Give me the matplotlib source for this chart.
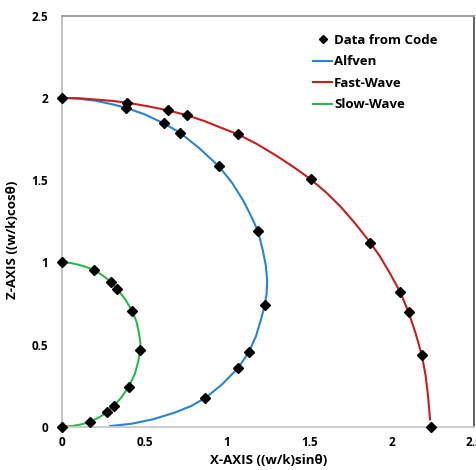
import matplotlib
matplotlib.use("Agg")
import matplotlib.pyplot as plt

plt.rcParams['font.family'] = ['Open Sans', 'DejaVu Sans']
plt.rcParams['font.weight'] = 'bold'

# markers ("Data from Code")
fast_pts_x = [0.0, 0.394, 0.642, 0.758, 1.067, 1.507, 1.869, 2.051, 2.101, 2.182, 2.235]
fast_pts_z = [2.0, 1.971, 1.924, 1.894, 1.778, 1.505, 1.120, 0.818, 0.697, 0.434, 0.0]
alfven_pts_x = [0.386, 0.616, 0.713, 0.950, 1.188, 1.228, 1.131, 1.065, 0.867]
alfven_pts_z = [1.940, 1.845, 1.789, 1.584, 1.188, 0.738, 0.452, 0.355, 0.174]
slow_pts_x = [0.0, 0.192, 0.295, 0.333, 0.424, 0.471, 0.402, 0.312, 0.269, 0.170, 0.0]
slow_pts_z = [1.0, 0.952, 0.881, 0.838, 0.705, 0.466, 0.241, 0.126, 0.087, 0.030, 0.0]

# curves
fast_x = [0.0, 0.1, 0.2, 0.3, 0.394, 0.52, 0.642, 0.7, 0.758, 0.86, 0.96, 1.067,
          1.18, 1.30, 1.41, 1.507, 1.60, 1.69, 1.78, 1.869, 1.93, 1.99, 2.051,
          2.101, 2.145, 2.182, 2.205, 2.22, 2.228, 2.231]
fast_z = [2.0, 1.998, 1.99, 1.982, 1.971, 1.949, 1.924, 1.909, 1.894, 1.86, 1.82, 1.778,
          1.72, 1.648, 1.575, 1.505, 1.426, 1.337, 1.233, 1.120, 1.032, 0.93, 0.818,
          0.697, 0.565, 0.434, 0.31, 0.18, 0.09, 0.045]
alfven_x = [0.0, 0.1, 0.2, 0.3, 0.386, 0.5, 0.616, 0.713, 0.83, 0.950, 1.03, 1.10,
            1.15, 1.188, 1.215, 1.235, 1.243, 1.24, 1.228, 1.205, 1.175, 1.131,
            1.065, 0.97, 0.867, 0.78, 0.68, 0.55, 0.42, 0.29]
alfven_z = [2.0, 1.995, 1.983, 1.962, 1.940, 1.90, 1.845, 1.789, 1.695, 1.584, 1.484, 1.372,
            1.272, 1.188, 1.08, 0.98, 0.89, 0.81, 0.738, 0.65, 0.55, 0.452,
            0.355, 0.258, 0.174, 0.125, 0.085, 0.045, 0.018, 0.004]
slow_x = [0.0, 0.05, 0.1, 0.15, 0.192, 0.245, 0.295, 0.333, 0.38, 0.424, 0.45, 0.465,
          0.474, 0.471, 0.462, 0.44, 0.402, 0.36, 0.312, 0.269, 0.22, 0.170, 0.12,
          0.06, 0.0]
slow_z = [1.0, 0.996, 0.985, 0.97, 0.952, 0.92, 0.881, 0.838, 0.777, 0.705, 0.64, 0.57,
          0.51, 0.466, 0.40, 0.32, 0.241, 0.18, 0.126, 0.087, 0.055, 0.030, 0.015,
          0.004, 0.0]

xticks = [0, 0.5, 1, 1.5, 2, 2.5]
yticks = [0, 0.5, 1, 1.5, 2, 2.5]
tick_labels = ['0', '0.5', '1', '1.5', '2', '2.5']

fig = plt.figure(figsize=(4.76, 4.70), dpi=100)
ax = fig.add_axes([0.1309, 0.0921, 0.8655, 0.8745])

ax.plot(alfven_x, alfven_z, color='#2a84d2', lw=1.5, label='Alfven', zorder=2,
        solid_joinstyle='round')
ax.plot(fast_x, fast_z, color='#c81e1e', lw=1.5, label='Fast-Wave', zorder=2,
        solid_joinstyle='round')
ax.plot(slow_x, slow_z, color='#2cb84e', lw=1.5, label='Slow-Wave', zorder=2,
        solid_joinstyle='round')

pts_x = fast_pts_x + alfven_pts_x + slow_pts_x
pts_z = fast_pts_z + alfven_pts_z + slow_pts_z
ax.plot(pts_x, pts_z, ls='none', marker='D', ms=5.3, color='black',
        label='Data from Code', zorder=3, clip_on=False)

ax.set_xlim(0, 2.5)
ax.set_ylim(0, 2.5)
ax.set_xticks(xticks)
ax.set_yticks(yticks)
ax.set_xticklabels(tick_labels)
ax.set_yticklabels(tick_labels)
ax.tick_params(length=0, labelsize=8.5)
ax.tick_params(axis='y', pad=10)
ax.tick_params(axis='x', pad=7)

ax.spines['left'].set_color('#bdbdbd')
ax.spines['bottom'].set_color('#c8c8c8')
ax.spines['top'].set_color('#9a9a9a')
ax.spines['right'].set_color('#555555')
for s in ax.spines.values():
    s.set_linewidth(1.3)

ax.set_xlabel('X-AXIS ((w/k)sinθ)', fontsize=9.5, fontweight='bold')
ax.set_ylabel('Z-AXIS ((w/k)cosθ)', fontsize=9.5, fontweight='bold')
ax.xaxis.set_label_coords(0.5, -0.066)
ax.yaxis.set_label_coords(-0.104, 0.454)

h, l = ax.get_legend_handles_labels()
order = [3, 0, 1, 2]
ax.legend([h[i] for i in order], [l[i] for i in order], loc='upper left',
          bbox_to_anchor=(0.58, 0.985), frameon=False, fontsize=9.5,
          handlelength=1.45, handletextpad=0.15, labelspacing=0.65, markerscale=0.8)

fig.savefig('out.png', dpi=100)
